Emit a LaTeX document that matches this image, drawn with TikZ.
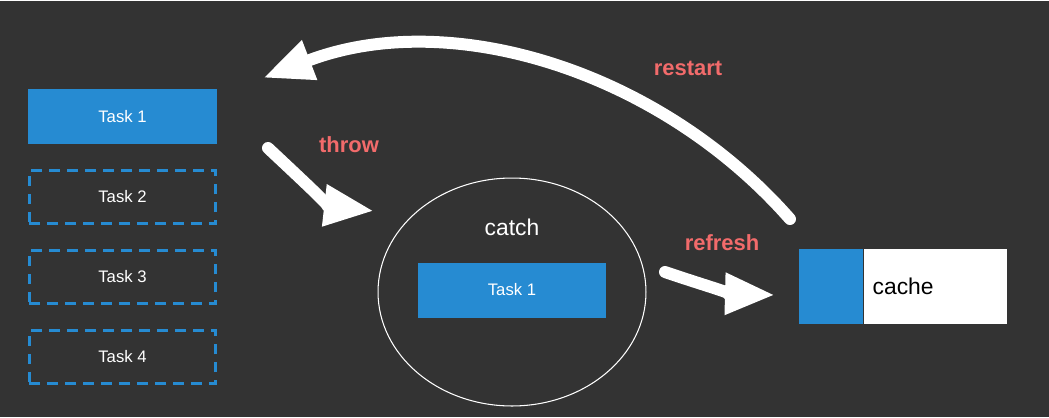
\documentclass[tikz,border=0pt]{standalone}
\usepackage{fontspec}
\setmainfont{Liberation Sans}
\usepackage{tikz}
\usetikzlibrary{arrows.meta, positioning, shapes.geometric}
\definecolor{backdrop}{HTML}{333333}
\definecolor{taskblue}{HTML}{268BD2}
\definecolor{labelred}{HTML}{F26B6B}

\begin{document}
\begin{tikzpicture}[x=0.02cm, y=-0.02cm,
  every node/.style={font=\fontsize{9.5}{11}\selectfont, text=white},
  taskfill/.style={fill=taskblue, minimum width=3.78cm, minimum height=1.1cm, inner sep=0pt},
  taskdash/.style={draw=taskblue, line width=1.5pt, dash pattern=on 0.21cm off 0.15cm, minimum width=3.73cm, minimum height=1.07cm, inner sep=0pt},
  flow/.style={draw=white, line width=0.24cm, line cap=round, -{Triangle[length=1cm, width=0.78cm]}},
  flowlabel/.style={font=\fontsize{12.5}{15}\selectfont\bfseries, text=labelred}]
  \fill[backdrop] (0,0) rectangle (1049,416);

  % task queue
  \node[taskfill] (taskA) at (122.5,115.5) {Task 1};
  \node[taskdash] (taskB) at (122.5,196) {Task 2};
  \node[taskdash] (taskC) at (122.5,276) {Task 3};
  \node[taskdash] (taskD) at (122.5,356) {Task 4};

  % catch zone
  \node[draw=white, line width=0.6pt, ellipse, minimum width=5.36cm, minimum height=4.56cm] (catchzone) at (512,291) {};
  \node[font=\fontsize{13}{15}\selectfont] (catchlabel) at (512,226) {catch};
  \node[taskfill] (taskE) at (512,289) {Task 1};

  % cache
  \node[fill=taskblue, minimum width=1.28cm, minimum height=1.5cm, inner sep=0pt] (cacheblue) at (831,285.5) {};
  \node[fill=white, text=black, font=\fontsize{13}{15}\selectfont, anchor=west, minimum height=1.5cm,
        text width=2.5cm, inner sep=0.18cm, align=left] (cachebox) at (cacheblue.east) {cache};

  % flows
  \coordinate (throwfrom) at (268,147);
  \coordinate (throwto) at (374,210);
  \coordinate (refreshfrom) at (665,271);
  \coordinate (refreshto) at (775,294);
  \coordinate (restartfrom) at (790,218);
  \coordinate (restartto) at (263,77);
  \draw[flow] (throwfrom) .. controls (300,177) and (330,205) .. (throwto);
  \draw[flow] (refreshfrom) .. controls (700,283) and (735,293) .. (refreshto);
  \draw[flow] (restartfrom) .. controls (660,70) and (450,5) .. (restartto);

  \node[flowlabel] (throwlabel) at (349,144) {throw};
  \node[flowlabel] (refreshlabel) at (722,242) {refresh};
  \node[flowlabel] (restartlabel) at (688,67) {restart};
\end{tikzpicture}
\end{document}
